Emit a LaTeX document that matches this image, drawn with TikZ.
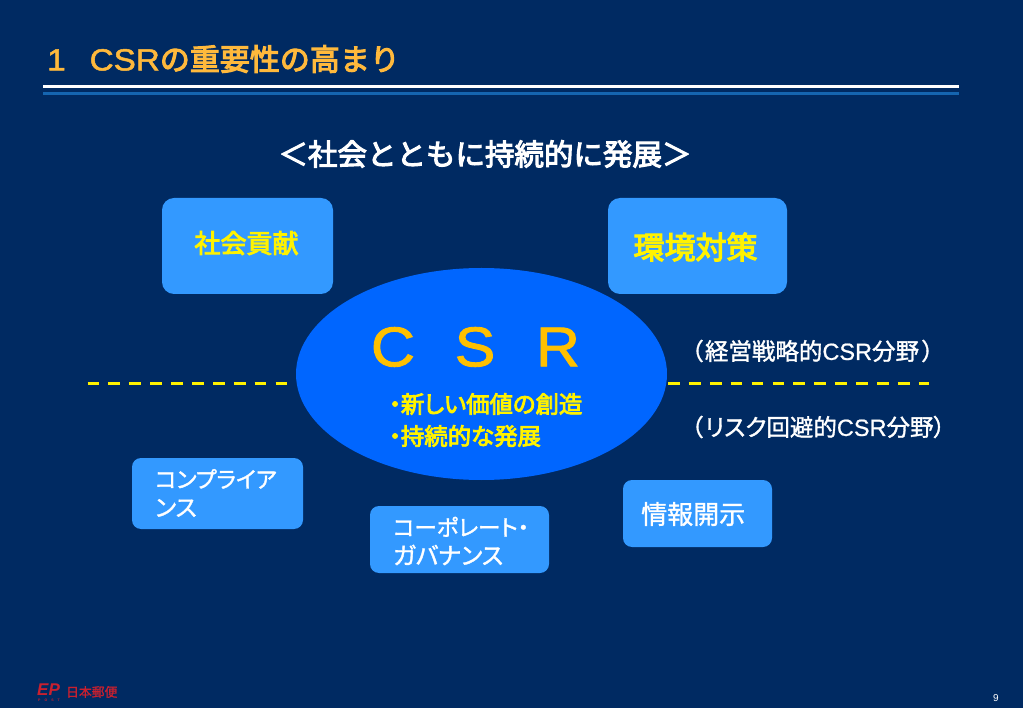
\documentclass[tikz,border=0pt]{standalone}
\usepackage{fontspec}
\setmainfont{Liberation Sans}
\newfontfamily\jp[FakeBold=1.4,RawFeature={+palt}]{Noto Sans CJK JP}
\newfontfamily\jpf[FakeBold=3.6]{Noto Sans CJK JP}
\newfontfamily\jpp[FakeBold=3.6,RawFeature={+palt}]{Noto Sans CJK JP}
\newfontfamily\latw[FakeBold=0.8]{Liberation Sans}
\newfontfamily\latm[FakeBold=1.6,FakeStretch=1.09]{Liberation Sans}
\definecolor{bg}{HTML}{002A62}
\definecolor{boxblue}{HTML}{3399FF}
\definecolor{ellblue}{HTML}{0066FF}
\definecolor{titleor}{HTML}{FFB93C}
\definecolor{csror}{HTML}{FFC000}
\definecolor{rulebl}{HTML}{1565B0}
\definecolor{logored}{HTML}{C8202F}
\tikzset{
  x=1pt,y=-1pt,
  card/.style={fill=boxblue,rounded corners=12pt,inner sep=0pt},
  smallcard/.style={fill=boxblue,rounded corners=9pt,inner sep=0pt},
  ylabel/.style={text=yellow,font=\fontsize{26}{30}\selectfont\jpf,inner sep=0pt},
  wlabel/.style={text=white,font=\fontsize{22.5}{28.5}\selectfont\jp,inner sep=0pt,align=left,anchor=west},
  sidelabel/.style={text=white,font=\fontsize{23.5}{28}\selectfont\jp,inner sep=0pt,anchor=west},
  dashline/.style={yellow,line width=3pt},
}
\begin{document}
\begin{tikzpicture}
\useasboundingbox (0,0) rectangle (1023,708);
\fill[bg] (0,0) rectangle (1023,708);
% title
\node[anchor=west,inner sep=0pt,text=titleor] (title) at (47,59)
  {\fontsize{30.5}{34}\selectfont\latm 1\hspace{24pt}CSR\fontsize{30}{34}\selectfont\jpf の重要性の高まり};
\coordinate (r1a) at (43,86.5); \coordinate (r1b) at (959,86.5);
\coordinate (r2a) at (43,93.5); \coordinate (r2b) at (959,93.5);
\draw[white,line width=3pt] (r1a) -- (r1b);
\draw[rulebl,line width=3pt] (r2a) -- (r2b);
\node[text=white,inner sep=0pt] (head) at (485,154)
  {\fontsize{29.5}{33}\selectfont\jpf ＜社会とともに持続的に発展＞};
% dashes
\coordinate (dl) at (87.5,383.5); \coordinate (dle) at (288,383.5);
\coordinate (dr) at (668,383.5); \coordinate (dre) at (929,383.5);
\draw[dashline,dash pattern=on 11.7pt off 9.2pt] (dl) -- (dle);
\draw[dashline,dash pattern=on 11.7pt off 9.2pt] (dr) -- (dre);
% ellipse
\fill[ellblue] (481.5,374) ellipse [x radius=185.5,y radius=106];
\node[text=csror,inner sep=0pt] (c) at (393,347) {\fontsize{56}{60}\selectfont\latm C};
\node[text=csror,inner sep=0pt] (s) at (475,347) {\fontsize{56}{60}\selectfont\latm S};
\node[text=csror,inner sep=0pt] (r) at (558,347) {\fontsize{56}{60}\selectfont\latm R};
\node[text=yellow,inner sep=0pt,anchor=west] (b1) at (389,404)
  {\fontsize{23.4}{28}\selectfont\jpp ・新しい価値の創造};
\node[text=yellow,inner sep=0pt,anchor=west] (b2) at (389,436)
  {\fontsize{23.4}{28}\selectfont\jpp ・持続的な発展};
% top boxes
\node[card,minimum width=171pt,minimum height=96pt] (kiga) at (247.5,246) {};
\node[ylabel] at (246.5,243) {社会貢献};
\node[card,minimum width=179pt,minimum height=96pt] (env) at (697.5,246) {};
\node[ylabel,font=\fontsize{31}{35}\selectfont\jpf] at (695.5,247) {環境対策};
% bottom boxes
\node[smallcard,minimum width=171pt,minimum height=71pt] (comp) at (217.5,493.5) {};
\node[wlabel] at (155,493) {コンプライア\\{\fontsize{23.5}{28.5}\selectfont ンス}};
\node[smallcard,minimum width=179pt,minimum height=67pt] (gov) at (459.5,539.5) {};
\node[wlabel] at (393,541) {コーポレート・\\{\fontsize{23.8}{28.5}\selectfont ガバナンス}};
\node[smallcard,minimum width=149pt,minimum height=67pt] (info) at (697.5,513.5) {};
\node[text=white,inner sep=0pt,anchor=west,font=\fontsize{26}{30}\selectfont\jp] at (641,514) {情報開示};
% side labels
\node[sidelabel] (s1) at (691,351) {（\hspace{2pt}経営戦略的{\latw CSR}分野\hspace{3pt}）};
\node[sidelabel] (s2) at (691,427) {（\hspace{2pt}リスク回避的{\latw CSR}分野）};
% footer
\node[text=logored,inner sep=0pt,anchor=west,font=\fontsize{17}{18}\selectfont\itshape\bfseries] (logo) at (37,690) {EP};
\node[text=logored,inner sep=0pt,anchor=west,font=\fontsize{3.5}{4}\selectfont\bfseries] (logo2) at (38,699.8) {P\hspace{4pt}O\hspace{4pt}S\hspace{4pt}T};
\node[text=logored,inner sep=0pt,anchor=west,font=\fontsize{12.8}{14}\selectfont\jp] (jpname) at (66,692) {日本郵便};
\node[text=white,inner sep=0pt,font=\fontsize{10}{12}\selectfont] (page) at (996,698) {9};
\end{tikzpicture}
\end{document}
